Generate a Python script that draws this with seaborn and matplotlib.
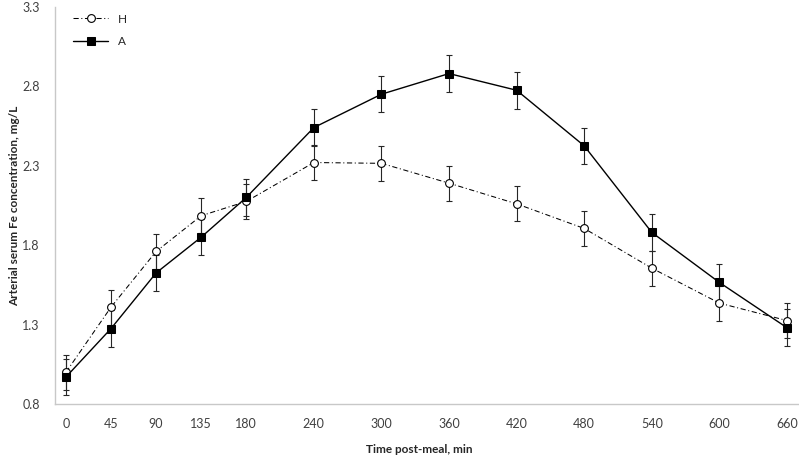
import numpy as np
import pandas as pd
import seaborn as sns
import matplotlib
matplotlib.use("Agg")
import matplotlib.pyplot as plt

minutes = [0, 45, 90, 135, 180, 240, 300, 360, 420, 480, 540, 600, 660]
h_vals = [1.00, 1.41, 1.76, 1.985, 2.075, 2.32, 2.315, 2.19, 2.06, 1.905, 1.655, 1.435, 1.325]
a_vals = [0.97, 1.275, 1.625, 1.85, 2.10, 2.54, 2.75, 2.88, 2.775, 2.425, 1.88, 1.565, 1.28]
h_err = [0.11] * 13
a_err = [0.115] * 13
y_ticks = [0.8, 1.3, 1.8, 2.3, 2.8, 3.3]

df = pd.DataFrame({"Time": minutes * 2,
                   "Fe": h_vals + a_vals,
                   "Group": ["H"] * 13 + ["A"] * 13})

sns.set_style("white")
plt.rcParams["font.family"] = ["Lato", "DejaVu Sans"]


# x axis in Excel is stretched after 180 min
def fwd(t):
    t = np.asarray(t, dtype=float)
    return np.where(t <= 180, t, 180 + (t - 180) * 1.125)


def inv(u):
    u = np.asarray(u, dtype=float)
    return np.where(u <= 180, u, 180 + (u - 180) / 1.125)


fig = plt.figure(figsize=(7.99, 4.57), dpi=100)
ax = fig.add_axes([0.0688, 0.116, 0.93, 0.869])
ax.set_xscale("function", functions=(fwd, inv))

for grp, errs in (("H", h_err), ("A", a_err)):
    sub = df[df["Group"] == grp]
    ax.errorbar(sub["Time"], sub["Fe"], yerr=errs, fmt="none",
                ecolor="#262626", elinewidth=0.8, capsize=2.4, capthick=0.8,
                zorder=2)

sns.lineplot(data=df[df["Group"] == "H"], x="Time", y="Fe", ax=ax,
             color="black", linewidth=0.75, linestyle=(0, (5, 2.5, 1, 2.5)),
             marker="o", markersize=5.6, markerfacecolor="white",
             markeredgecolor="black", markeredgewidth=0.8, label="H",
             zorder=3)
sns.lineplot(data=df[df["Group"] == "A"], x="Time", y="Fe", ax=ax,
             color="black", linewidth=1.0, marker="s", markersize=6,
             markerfacecolor="black", markeredgecolor="black", label="A",
             zorder=4)

ax.set_xlim(-11, 669.8)
ax.set_ylim(0.8, 3.3)
ax.set_xticks(minutes)
ax.set_xticklabels([str(m) for m in minutes])
ax.set_yticks(y_ticks)
ax.set_yticklabels([f"{v:.1f}" for v in y_ticks])
ax.tick_params(length=0, labelsize=9, colors="#404040")
ax.tick_params(axis="x", pad=10)
ax.tick_params(axis="y", pad=11)

for side in ("top", "right"):
    ax.spines[side].set_visible(False)
for side in ("left", "bottom"):
    ax.spines[side].set_color("#c8c8c8")
    ax.spines[side].set_linewidth(1)

ax.set_xlabel("Time post-meal, min", fontsize=8.5, fontweight="bold")
ax.set_ylabel("Arterial serum Fe concentration, mg/L", fontsize=8.5,
              fontweight="bold")
ax.xaxis.set_label_coords(0.49, -0.1)
ax.yaxis.set_label_coords(-0.047, 0.5)

ax.legend(loc="upper left", bbox_to_anchor=(0.01, 1.01), frameon=False,
          fontsize=8.5, handlelength=3.0, labelspacing=0.95)

fig.savefig("out.png", dpi=100)
